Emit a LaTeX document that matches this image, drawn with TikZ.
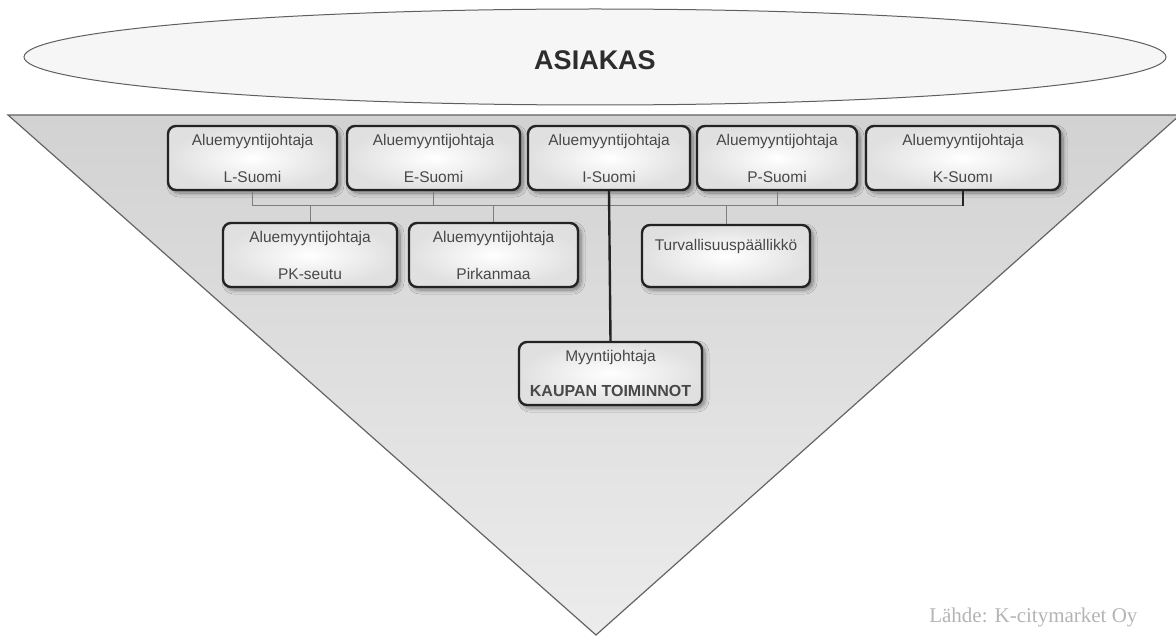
\documentclass[tikz,border=0pt]{standalone}
\usepackage{fontspec}
\setmainfont{Liberation Sans}
\newfontfamily\srcfont{Liberation Serif}
\usetikzlibrary{shadows,shadows.blur,shapes.geometric}

\definecolor{trifilltop}{RGB}{210,210,210}
\definecolor{trifillbot}{RGB}{236,236,236}
\definecolor{triline}{RGB}{100,100,100}
\definecolor{ellfill}{RGB}{246,246,246}
\definecolor{ellline}{RGB}{95,95,95}
\definecolor{boxline}{RGB}{35,35,35}
\definecolor{boxedge}{RGB}{224,224,224}
\definecolor{boxtext}{RGB}{72,72,72}
\definecolor{thinconn}{RGB}{125,125,125}
\definecolor{srcgray}{RGB}{180,180,180}

\begin{document}
\begin{tikzpicture}[x=1pt,y=-1pt,
  orgbox/.style={draw=boxline, line width=2.4pt, rounded corners=8pt,
    inner color=white, outer color=boxedge,
    blur shadow={shadow xshift=3pt, shadow yshift=-3pt, shadow blur radius=4pt,
                 shadow blur steps=8, shadow opacity=45},
    minimum height=64pt, align=center, inner sep=0pt,
    font=\fontsize{15.5}{17}\selectfont, text=boxtext},
  thinline/.style={draw=thinconn, line width=1pt},
  thickline/.style={draw=boxline, line width=2.4pt},
  boxlabel/.style={font=\fontsize{15.5}{17}\selectfont, text=boxtext, inner sep=0pt},
]
\useasboundingbox (0,0) rectangle (1176,639);

% customer ellipse
\node[draw=ellline, line width=1pt, fill=ellfill, ellipse, minimum width=1142pt,
      minimum height=96pt, inner sep=0pt] (asiakas) at (595,57) {};
\node[font=\fontsize{27}{30}\selectfont\bfseries, text={rgb,255:red,45;green,45;blue,45}]
  (asiakastxt) at (595,60) {ASIAKAS};

% organisation triangle
\path[draw=triline, line width=1.2pt, top color=trifilltop, bottom color=trifillbot]
  (8,115) -- (1180,115) -- (596,635) -- cycle;

% bus line height
\coordinate (bus) at (0,206);

% regional managers
\node[orgbox, minimum width=169pt] (lsu) at (252.5,158) {Aluemyyntijohtaja\\[20pt]L-Suomi};
\node[orgbox, minimum width=173pt] (esu) at (433.5,158) {Aluemyyntijohtaja\\[20pt]E-Suomi};
\node[orgbox, minimum width=162pt] (isu) at (609,158) {Aluemyyntijohtaja\\[20pt]I-Suomi};
\node[orgbox, minimum width=160pt] (psu) at (777,158) {Aluemyyntijohtaja\\[20pt]P-Suomi};
\node[orgbox, minimum width=194pt] (ksu) at (963,158) {Aluemyyntijohtaja\\[20pt]K-Suomı};

\node[orgbox, minimum width=174pt] (pk) at (310,255) {Aluemyyntijohtaja\\[20pt]PK-seutu};
\node[orgbox, minimum width=169pt] (pir) at (493.5,255) {Aluemyyntijohtaja\\[20pt]Pirkanmaa};
\node[orgbox, minimum width=168pt, minimum height=62pt] (turv) at (726,256) {};
\node[boxlabel] (turvtxt) at ([yshift=-23pt]turv.north) {Turvallisuuspäällikkö};

\node[orgbox, minimum width=183pt, minimum height=63pt] (myy) at (610.5,373.5)
  {Myyntijohtaja\\[18pt]{\fontsize{16}{17}\selectfont\bfseries KAUPAN TOIMINNOT}};

% connectors
\draw[thinline] (lsu.south) -- (lsu.south |- bus) -- (ksu.south |- bus);
\draw[thinline] (esu.south) -- (esu.south |- bus);
\draw[thinline] (psu.south) -- (psu.south |- bus);
\draw[thinline] (pk.north |- bus) -- (pk.north);
\draw[thinline] (pir.north |- bus) -- (pir.north);
\draw[thinline] (turv.north |- bus) -- (turv.north);
\draw[thickline] (ksu.south) -- (ksu.south |- bus);
\draw[thickline] (isu.south) -- (myy.north);

% source note
\node[font=\srcfont\fontsize{21}{23}\selectfont, text=srcgray, anchor=east]
  (source) at (1141,617) {Lähde: K-citymarket Oy};
\end{tikzpicture}
\end{document}
